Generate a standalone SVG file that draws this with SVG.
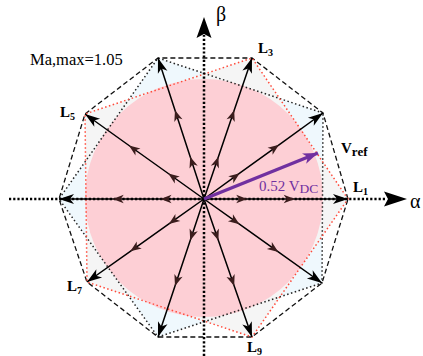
<svg xmlns="http://www.w3.org/2000/svg" width="423" height="356" viewBox="0 0 423 356">
<style>
.dec{fill:none;stroke:#111;stroke-width:1.3;stroke-dasharray:5,3}
.bpent{fill:none;stroke:#222;stroke-width:1.5;stroke-dasharray:1.5,2.5}
.rpent{fill:none;stroke:#ff4a3a;stroke-width:1.5;stroke-dasharray:1.5,2.5}
.axis{fill:none;stroke:#000;stroke-width:2.5;stroke-dasharray:2.2,2}
.vec{fill:none;stroke:#000;stroke-width:1.5;marker-mid:url(#mid);marker-end:url(#tip)}
.lab{font-family:"Liberation Serif","Times New Roman",serif;font-weight:bold;font-size:15px;fill:#000}
.txt{font-family:"Liberation Serif","Times New Roman",serif;fill:#000}
</style>
<defs>
<marker id="tip" viewBox="-16 -6 17 12" refX="0" refY="0" markerWidth="17" markerHeight="12" orient="auto" markerUnits="userSpaceOnUse" overflow="visible"><path d="M0,0 L-15,-5 L-11,0 L-15,5 Z" fill="#000"/></marker>
<marker id="mid" viewBox="-12 -5 13 10" refX="0" refY="0" markerWidth="13" markerHeight="10" orient="auto" markerUnits="userSpaceOnUse" overflow="visible"><path d="M0,0 L-11,-4.3 L-8,0 L-11,4.3 Z" fill="#3b1d1d"/></marker>
<marker id="ptip" viewBox="-16 -7 17 14" refX="0" refY="0" markerWidth="17" markerHeight="14" orient="auto" markerUnits="userSpaceOnUse" overflow="visible"><path d="M0,0 L-15,-5.5 L-11,0 L-15,5.5 Z" fill="#7030a0"/></marker>
</defs>

<g id="fills">
<polygon points="323,113 158,58 59,199 158,337 322,283" fill="#eff8fd"/>
<polygon points="348,199 252,58 85,114 87,282 252,337" fill="#f5f5f5"/>
<circle cx="204" cy="198" r="119" fill="#fdcfd5"/>
</g>

<g id="polygons">
<polygon class="dec" points="348,199 323,113 252,58 158,58 85,114 59,199 87,282 158,337 252,337 322,283"/>
<polygon class="bpent" points="323,113 158,58 59,199 158,337 322,283"/>
<polygon class="rpent" points="348,199 252,58 85,114 87,282 252,337"/>
</g>

<g id="axes">
<line class="axis" x1="9" y1="199" x2="387" y2="199"/>
<path d="M407,199 L384,191.5 L388,199 L384,206.5 Z" fill="#000"/>
<line class="axis" x1="204" y1="356" x2="204" y2="35"/>
<path d="M204,17 L196.5,38 L204,34 L211.5,38 Z" fill="#000"/>
</g>

<g id="connectors">
<path class="vec" d="M204,199 L247.2,199 L294.7,199 L348,199"/>
<path class="vec" d="M204,199 L239.7,173.2 L279,144.8 L323,113"/>
<path class="vec" d="M204,199 L218.4,156.7 L234.2,110.2 L252,58"/>
<path class="vec" d="M204,199 L190.2,156.7 L175,110.2 L158,58"/>
<path class="vec" d="M204,199 L168.3,173.5 L129,145.5 L85,114"/>
<path class="vec" d="M204,199 L160.5,199 L112.7,199 L59,199"/>
<path class="vec" d="M204,199 L168.9,223.9 L130.3,251.3 L87,282"/>
<path class="vec" d="M204,199 L190.2,240.4 L175,285.9 L158,337"/>
<path class="vec" d="M204,199 L218.4,240.4 L234.2,285.9 L252,337"/>
<path class="vec" d="M204,199 L239.4,224.2 L278.3,251.9 L322,283"/>
<path d="M204,199 L318,153" fill="none" stroke="#7030a0" stroke-width="3.5" marker-end="url(#ptip)"/>
</g>

<g id="labels">
<g id="t-ma"><text class="txt" x="30" y="65" font-size="16.5">Ma,max=1.05</text></g>
<g id="t-beta"><text class="txt" x="216" y="20.5" font-size="20">β</text></g>
<g id="t-alpha"><text class="txt" x="410" y="208" font-size="20">α</text></g>
<g id="t-L1"><text class="lab" x="353" y="192">L<tspan font-size="10" dy="3">1</tspan></text></g>
<g id="t-L3"><text class="lab" x="258" y="53">L<tspan font-size="10" dy="3">3</tspan></text></g>
<g id="t-L5"><text class="lab" x="60" y="117">L<tspan font-size="10" dy="3">5</tspan></text></g>
<g id="t-L7"><text class="lab" x="67" y="290.5">L<tspan font-size="10" dy="3">7</tspan></text></g>
<g id="t-L9"><text class="lab" x="247" y="352">L<tspan font-size="10" dy="3">9</tspan></text></g>
<g id="t-vref"><text class="lab" x="341" y="153" font-size="16">V<tspan font-size="13" dy="2.5">ref</tspan></text></g>
<g id="t-vdc"><text class="txt" x="259" y="191" font-size="15" fill="#7030a0" style="fill:#7030a0">0.52 V<tspan font-size="13.5" dy="2">DC</tspan></text></g>
</g>
</svg>
